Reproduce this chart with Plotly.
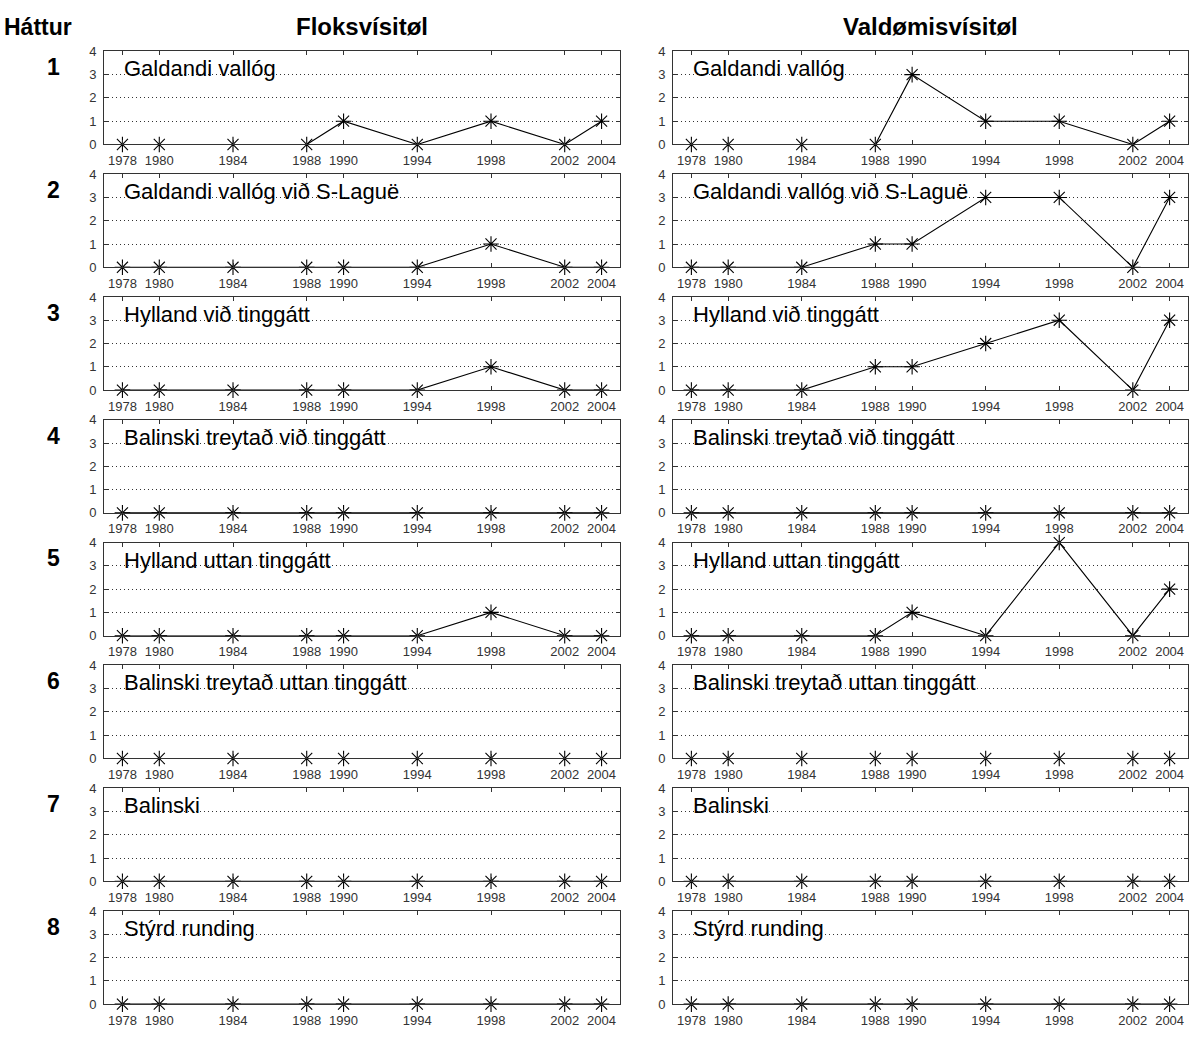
import plotly.graph_objects as go

# Election years on the x axis
years = [1978, 1980, 1984, 1988, 1990, 1994, 1998, 2002, 2004]

# Method names (one per row)
methods = [
    "Galdandi vallóg",
    "Galdandi vallóg við S-Laguë",
    "Hylland við tinggátt",
    "Balinski treytað við tinggátt",
    "Hylland uttan tinggátt",
    "Balinski treytað uttan tinggátt",
    "Balinski",
    "Stýrd runding",
]

# Party index values per method
party_index = [
    [0, 0, 0, 0, 1, 0, 1, 0, 1],
    [0, 0, 0, 0, 0, 0, 1, 0, 0],
    [0, 0, 0, 0, 0, 0, 1, 0, 0],
    [0, 0, 0, 0, 0, 0, 0, 0, 0],
    [0, 0, 0, 0, 0, 0, 1, 0, 0],
    [0, 0, 0, 0, 0, 0, 0, 0, 0],
    [0, 0, 0, 0, 0, 0, 0, 0, 0],
    [0, 0, 0, 0, 0, 0, 0, 0, 0],
]

# Constituency index values per method
district_index = [
    [0, 0, 0, 0, 3, 1, 1, 0, 1],
    [0, 0, 0, 1, 1, 3, 3, 0, 3],
    [0, 0, 0, 1, 1, 2, 3, 0, 3],
    [0, 0, 0, 0, 0, 0, 0, 0, 0],
    [0, 0, 0, 0, 1, 0, 4, 0, 2],
    [0, 0, 0, 0, 0, 0, 0, 0, 0],
    [0, 0, 0, 0, 0, 0, 0, 0, 0],
    [0, 0, 0, 0, 0, 0, 0, 0, 0],
]

column_titles = ["Floksvísitøl", "Valdømisvísitøl"]
y_ticks = [0, 1, 2, 3, 4]

W, H = 1195, 1039
col_px = [(104, 620), (673, 1188)]
row_top0, row_pitch, row_h = 45, 124.6, 94.5

fig = go.Figure()
layout = {}
annotations = []
font = "Liberation Sans, Arial, sans-serif"

for r in range(8):
    top = row_top0 + r * row_pitch
    bot = top + row_h
    ydom = [1 - bot / H, 1 - top / H]
    for c in range(2):
        idx = r * 2 + c + 1
        xa = "xaxis" if idx == 1 else f"xaxis{idx}"
        ya = "yaxis" if idx == 1 else f"yaxis{idx}"
        xref = "x" if idx == 1 else f"x{idx}"
        yref = "y" if idx == 1 else f"y{idx}"
        vals = party_index[r] if c == 0 else district_index[r]
        fig.add_trace(go.Scatter(
            x=years, y=vals, xaxis=xref, yaxis=yref,
            mode="lines+markers",
            line=dict(color="black", width=1.1),
            marker=dict(symbol="asterisk-open", size=13,
                        line=dict(color="black", width=1.1), color="black"),
            cliponaxis=False, showlegend=False, hoverinfo="x+y",
        ))
        x0, x1 = col_px[c]
        layout[xa] = dict(
            domain=[x0 / W, x1 / W], anchor=yref, range=[1977, 2005],
            tickmode="array", tickvals=years, ticktext=[str(y) for y in years],
            ticks="inside", ticklen=4, tickcolor="#333",
            showline=True, linecolor="#333", linewidth=1, mirror="ticks",
            showgrid=False, zeroline=False, ticklabelstandoff=4,
            tickfont=dict(family=font, size=13, color="#333"),
        )
        layout[ya] = dict(
            domain=ydom, anchor=xref, range=[0, 4],
            tickmode="array", tickvals=y_ticks,
            ticks="inside", ticklen=4, tickcolor="#333",
            showline=True, linecolor="#333", linewidth=1, mirror="ticks",
            showgrid=True, gridcolor="#333", griddash="1px,3px", gridwidth=1,
            zeroline=False, ticklabelstandoff=4,
            tickfont=dict(family=font, size=13, color="#333"),
        )
        annotations.append(dict(
            x=1978, y=3.25, xref=xref, yref=yref, text=methods[r],
            showarrow=False, xanchor="left", yanchor="middle",
            font=dict(family=font, size=22, color="black"),
        ))
    # Row number
    annotations.append(dict(
        x=53 / W, y=1 - (top + 16) / H, xref="paper", yref="paper",
        text=f"<b>{r + 1}</b>", showarrow=False, xanchor="center", yanchor="middle",
        font=dict(family=font, size=23, color="black"),
    ))

# Column headers
for c, t in enumerate(column_titles):
    x0, x1 = col_px[c]
    annotations.append(dict(
        x=(x0 + x1) / 2 / W, y=1 - 20 / H, xref="paper", yref="paper",
        text=f"<b>{t}</b>", showarrow=False, xanchor="center", yanchor="middle",
        font=dict(family=font, size=24, color="black"),
    ))
annotations.append(dict(
    x=38 / W, y=1 - 20 / H, xref="paper", yref="paper",
    text="<b>Háttur</b>", showarrow=False, xanchor="center", yanchor="middle",
    font=dict(family=font, size=23, color="black"),
))

fig.update_layout(
    width=W, height=H, margin=dict(l=0, r=0, t=0, b=0),
    paper_bgcolor="white", plot_bgcolor="white",
    annotations=annotations, **layout,
)
fig.write_html("out.html")
